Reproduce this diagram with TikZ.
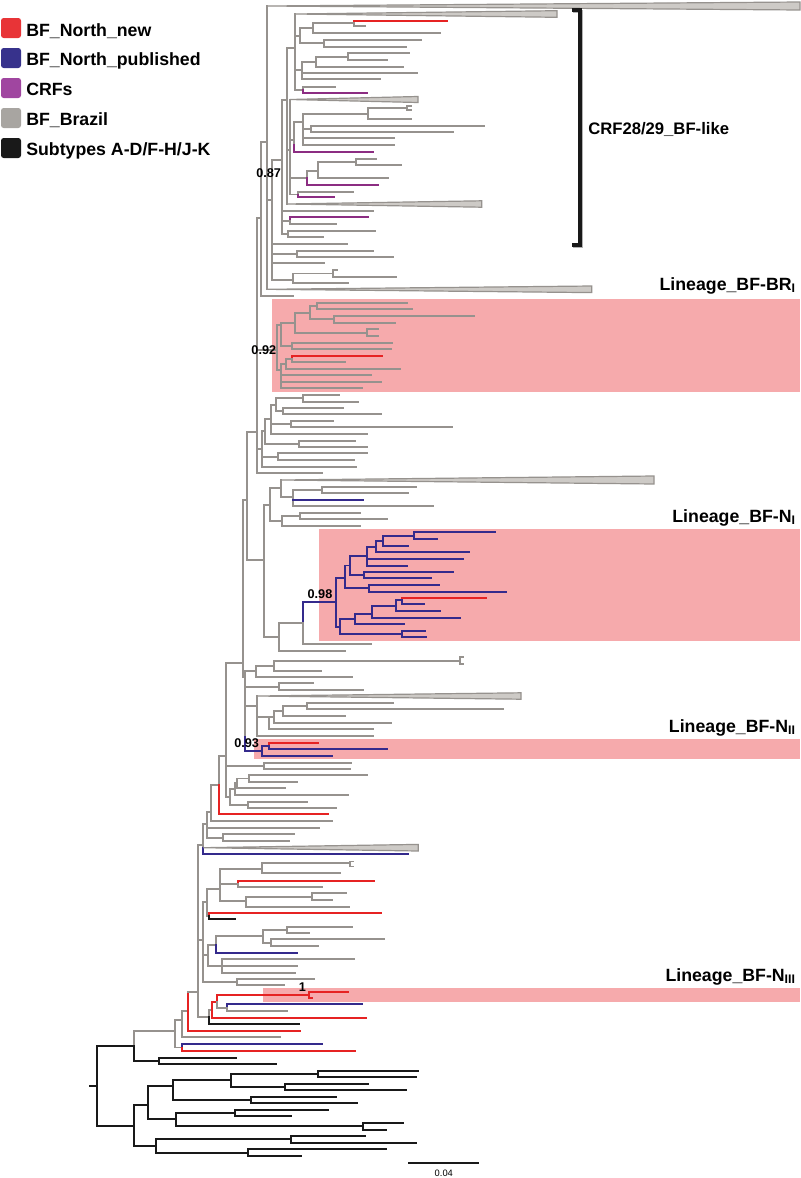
\documentclass[tikz,border=0pt]{standalone}
\usepackage{fontspec}
\setmainfont{Liberation Sans}
\definecolor{cg}{RGB}{150,146,142}
\definecolor{cr}{RGB}{230,35,35}
\definecolor{cb}{RGB}{52,42,140}
\definecolor{cp}{RGB}{140,45,130}
\definecolor{ck}{RGB}{25,25,25}
\definecolor{cw}{RGB}{205,202,198}
\definecolor{cpink}{RGB}{246,170,172}
\definecolor{lgr}{RGB}{232,52,55}
\definecolor{lgb}{RGB}{55,50,140}
\definecolor{lgp}{RGB}{160,70,160}
\definecolor{lgg}{RGB}{168,165,161}
\definecolor{lgk}{RGB}{25,25,25}
\tikzset{
 br/.style={line width=1.4pt, line cap=rect},
 tg/.style={br, draw=cg},
 tr/.style={br, draw=cr},
 tb/.style={br, draw=cb},
 tp/.style={br, draw=cp},
 tk/.style={br, draw=ck, line width=1.5pt},
 wedge/.style={fill=cw, draw=cg, line width=0.9pt, line join=miter},
 hl/.style={fill=cpink, draw=none},
 lab/.style={font=\bfseries\fontsize{13.3}{15}\selectfont, inner sep=0pt},
 bs/.style={font=\bfseries\fontsize{9.5}{11}\selectfont, inner sep=0pt},
 legsq/.style={rounded corners=2pt, draw=none},
}
\newcommand\HL[4][tg]{\draw[#1] (#3,#2) -- (#4,#2);}
\newcommand\VL[4][tg]{\draw[#1] (#2,#3) -- (#2,#4);}
\newcommand\WG[4]{\filldraw[wedge] (#2,#1) -- (#3,#1-#4) -- (#3,#1+#4) -- cycle;}
\begin{document}
\begin{tikzpicture}[x=0.75pt,y=-0.75pt]
\useasboundingbox (0,0) rectangle (800,1178);
\fill[white] (0,0) rectangle (800,1178);
% ---------- highlight boxes
\fill[hl] (272,299) rectangle (800,392);
\fill[hl] (319,529) rectangle (800,641);
\fill[hl] (254,739) rectangle (800,759);
\fill[hl] (263,988) rectangle (800,1002);
% ---------- legend
\fill[legsq, lgr] (1,18) rectangle (21,38);
\fill[legsq, lgb] (1,48) rectangle (21,68);
\fill[legsq, lgp] (1,78) rectangle (21,98);
\fill[legsq, lgg] (1,108) rectangle (21,128);
\fill[legsq, lgk] (1,138) rectangle (21,158);
\node[lab, anchor=base west] (l1) at (26,36) {BF\_North\_new};
\node[lab, anchor=base west] (l2) at (26,65) {BF\_North\_published};
\node[lab, anchor=base west] (l3) at (26,95) {CRFs};
\node[lab, anchor=base west] (l4) at (26,125) {BF\_Brazil};
\node[lab, anchor=base west] (l5) at (26,155) {Subtypes A-D/F-H/J-K};
% ---------- root and outgroup
\HL[tk]{1086}{90}{96.7}
\VL[tk]{96.7}{1046}{1126}
\HL[tk]{1046}{96.7}{134.3}
\VL[tg]{134.3}{1030.7}{1046}
\VL[tk]{134.3}{1046}{1060.7}
\HL[tg]{1030.7}{134.3}{175}
\HL[tk]{1060.7}{134.3}{159}
\VL[tk]{159}{1057.7}{1064.3}
\HL[tk]{1057.7}{159}{235.7}
\HL[tk]{1064.3}{159}{275.7}
\HL[tk]{1126}{96.7}{134}
\VL[tk]{134}{1105}{1146}
\HL[tk]{1105}{134}{147.7}
\VL[tk]{147.7}{1086}{1119.3}
\HL[tk]{1086}{147.7}{172.7}
\VL[tk]{172.7}{1080}{1100}
\HL[tk]{1080}{172.7}{231}
\VL[tk]{231}{1074}{1087}
\HL[tk]{1074}{231}{318.3}
\VL[tk]{318.3}{1070.7}{1077}
\HL[tk]{1070.7}{318.3}{417.7}
\HL[tk]{1077}{318.3}{415.7}
\HL[tk]{1087}{231}{285}
\VL[tk]{285}{1083.7}{1090.3}
\HL[tk]{1083.7}{285}{367.7}
\HL[tk]{1090.3}{285}{406}
\HL[tk]{1100}{172.7}{251}
\VL[tk]{251}{1097}{1103.3}
\HL[tk]{1097}{251}{335.7}
\HL[tk]{1103.3}{251}{356.7}
\HL[tk]{1119.3}{147.7}{176}
\VL[tk]{176}{1113}{1126}
\HL[tk]{1113}{176}{235}
\VL[tk]{235}{1110}{1116.3}
\HL[tk]{1110}{235}{328.3}
\HL[tk]{1116.3}{235}{290.7}
\HL[tk]{1126}{176}{362.7}
\VL[tk]{362.7}{1123.3}{1129.7}
\HL[tk]{1123.3}{362.7}{403.3}
\HL[tk]{1129.7}{362.7}{385.7}
\HL[tk]{1146}{134}{156}
\VL[tk]{156}{1139.3}{1152.7}
\HL[tk]{1139.3}{156}{290.7}
\VL[tk]{290.7}{1136}{1142.7}
\HL[tk]{1136}{290.7}{365}
\HL[tk]{1142.7}{290.7}{415.7}
\HL[tk]{1152.7}{156}{247.7}
\VL[tk]{247.7}{1149.3}{1156}
\HL[tk]{1149.3}{247.7}{386}
\HL[tk]{1156}{247.7}{300.7}
% ---------- BF ingroup, basal part
\VL{175}{1020}{1047.5}
\HL{1020}{175}{181.7}
\HL{1047.5}{175}{182.3}
\VL[tb]{182.3}{1044.3}{1047.5}
\VL[tr]{182.3}{1047.5}{1050.7}
\HL[tb]{1044.3}{182.3}{321.7}
\HL[tr]{1050.7}{182.3}{355}
\VL{181.7}{1011}{1037.3}
\HL{1037.3}{181.7}{280}
\HL{1011}{181.7}{188.3}
\VL[tr]{188.3}{991.7}{1031}
\HL[tr]{1031}{188.3}{300}
\HL{991.7}{188.3}{198.3}
\VL{198.3}{845}{1017.3}
\HL{1017.3}{198.3}{209.3}
\VL{209.3}{1010}{1017.3}
\VL[tk]{209.3}{1017.3}{1024.3}
\HL[tk]{1024.3}{209.3}{299}
\HL{1010}{209.3}{211.7}
\VL[tr]{211.7}{1001.7}{1018.3}
\HL[tr]{1018.3}{211.7}{366}
\HL[tr]{1001.7}{211.7}{216.7}
\VL[tr]{216.7}{995}{1001.7}
\VL{216.7}{1001.7}{1008}
\HL[tr]{995}{216.7}{309.3}
\VL[tr]{309.3}{991.7}{998.3}
\HL[tr]{991.7}{309.3}{347.7}
\HL[tr]{998.3}{309.3}{311.7}
\HL{1008}{216.7}{226.7}
\VL[tb]{226.7}{1004.3}{1008}
\VL{226.7}{1008}{1011}
\HL[tb]{1004.3}{226.7}{362.3}
\HL{1011}{226.7}{287.3}
% node 202.7
\HL{940}{198.3}{202.7}
\VL{202.7}{902}{982.3}
\HL{902}{202.7}{207.3}
\VL{207.3}{889.3}{916}
\HL{889.3}{207.3}{220}
\VL{220}{869.3}{901}
\HL{869.3}{220}{261.7}
\VL{261.7}{863.3}{873.3}
\HL{863.3}{261.7}{350}
\VL{350}{861.5}{866.5}
\HL{861.5}{350}{353}
\HL{866.5}{350}{353}
\HL{873.3}{261.7}{340}
\HL{883.7}{220}{237.7}
\VL[tr]{237.7}{880.7}{883.7}
\VL{237.7}{883.7}{886.7}
\HL[tr]{880.7}{237.7}{374}
\HL{886.7}{237.7}{322.3}
\HL{901}{220}{245.7}
\VL{245.7}{896.7}{906.7}
\HL{896.7}{245.7}{311.7}
\VL{311.7}{893.3}{900}
\HL{893.3}{311.7}{345.7}
\HL{900}{311.7}{332.3}
\HL{906.7}{245.7}{349}
\HL{916}{207.3}{209}
\VL[tr]{209}{912.7}{916}
\VL[tk]{209}{916}{919.3}
\HL[tr]{912.7}{209}{381}
\HL[tk]{919.3}{209}{235}
\HL{955}{202.7}{208.3}
\VL{208.3}{945}{966}
\HL{945}{208.3}{216}
\VL{216}{936}{945}
\VL[tb]{216}{945}{952.7}
\HL[tb]{952.7}{216}{296.7}
\HL{936}{216}{263.3}
\VL{263.3}{929.7}{942.7}
\HL{929.7}{263.3}{287.3}
\VL{287.3}{926.7}{932.7}
\HL{926.7}{287.3}{352.3}
\HL{932.7}{287.3}{309}
\HL{942.7}{263.3}{271}
\VL{271}{939.3}{946}
\HL{939.3}{271}{384}
\HL{946}{271}{317.7}
\HL{966}{208.3}{221.7}
\VL{221.7}{959.3}{972.7}
\HL{959.3}{221.7}{354.3}
\HL{966}{221.7}{296.7}
\HL{972.7}{221.7}{295}
\HL{982.3}{202.7}{236.7}
\VL{236.7}{979.3}{985.3}
\HL{979.3}{236.7}{314.3}
\HL{985.3}{236.7}{284.3}
% node 203.3
\HL{845}{198.3}{203.3}
\VL{203.3}{824}{847.7}
\VL[tb]{203.3}{847.7}{854}
\WG{847.7}{203.3}{418.3}{3.3}
\HL[tb]{854}{203.3}{408.3}
\HL{824}{203.3}{207.3}
\VL{207.3}{812}{837.7}
\HL{827.7}{207.3}{319.3}
\HL{837.7}{207.3}{222.7}
\VL{222.7}{834.3}{841}
\HL{834.3}{222.7}{294.3}
\HL{841}{222.7}{289.3}
\HL{812}{207.3}{211}
\VL{211}{785}{821}
\HL{821}{211}{332.3}
\HL{785}{211}{219}
\VL{219}{756}{785}
\VL[tr]{219}{785}{814.3}
\HL[tr]{814.3}{219}{327.7}
\HL{756}{219}{226}
% node 226
\VL{226}{663.3}{797}
\HL{663.3}{226}{243.3}
\HL{765.7}{226}{264}
\VL{264}{762.7}{768.7}
\HL{762.7}{264}{351}
\HL{768.7}{264}{350}
\HL{797}{226}{230}
\VL{230}{789.2}{805}
\HL{805}{230}{248.3}
\VL{248.3}{801.7}{808.3}
\HL{801.7}{248.3}{306.7}
\HL{808.3}{248.3}{336}
\HL{789.2}{230}{235}
\VL{235}{783.4}{795}
\HL{795}{235}{348.3}
\HL{783.4}{235}{237.3}
\VL{237.3}{778.5}{788.3}
\HL{788.3}{237.3}{285}
\HL{778.5}{237.3}{249}
\VL{249}{775.3}{781.7}
\HL{775.3}{249}{366.7}
\HL{781.7}{249}{296.7}
% node 243.3 / 245
\VL{243.3}{500}{677}
\HL{500}{243.3}{246.7}
\HL{677}{243.3}{245}
\VL{245}{671}{737.3}
\HL{671}{245}{256}
\VL{256}{665.7}{676.7}
\HL{665.7}{256}{274.3}
\VL{274.3}{660.7}{670.7}
\HL{660.7}{274.3}{460}
\VL{460}{657.3}{664}
\HL{657.3}{460}{463}
\HL{664}{460}{463}
\HL{670.7}{274.3}{321}
\HL{676.7}{256}{351.7}
\HL{686.7}{245}{279.3}
\VL{279.3}{683.3}{690}
\HL{683.3}{279.3}{313.3}
\HL{690}{279.3}{363.3}
\HL{706}{245}{257}
\VL{257}{696}{736}
\WG{696}{257}{521}{3.2}
\HL{716.8}{257}{269.3}
\VL{269.3}{716.8}{729.3}
\HL{729.3}{269.3}{372.7}
\HL{716.8}{269.3}{274}
\VL{274}{711}{722.7}
\HL{722.7}{274}{390.7}
\HL{711}{274}{283.3}
\VL{283.3}{706}{716}
\HL{716}{283.3}{345}
\HL{706}{283.3}{306.7}
\VL{306.7}{702.7}{709.3}
\HL{702.7}{306.7}{393.3}
\HL{709.3}{306.7}{503}
\HL{736}{257}{372.7}
% 0.93 clade
\VL[tb]{245}{737.3}{750.7}
\HL[tb]{750.7}{245}{261.7}
\VL[tb]{261.7}{746}{756}
\HL[tb]{746}{261.7}{269}
\VL[tr]{269}{742.7}{746}
\VL[tb]{269}{746}{749.3}
\HL[tr]{742.7}{269}{317.7}
\HL[tb]{749.3}{269}{386.7}
\HL[tb]{756}{261.7}{331.7}
% node 246.7
\VL{246.7}{431.7}{560}
\HL{431.7}{246.7}{257.3}
\HL{560}{246.7}{264}
\VL{264}{505}{636.7}
\HL{505}{264}{270}
\VL{270}{488.3}{521}
\HL{488.3}{270}{280.7}
\VL{280.7}{480}{496.7}
\WG{480}{280.7}{654}{4}
\HL{496.7}{280.7}{292.7}
\VL{292.7}{490}{506}
\HL{490}{292.7}{321.7}
\VL{321.7}{486.7}{493.3}
\HL{486.7}{321.7}{415.7}
\HL{493.3}{321.7}{408.3}
\HL[tb]{500}{292.7}{362.7}
\HL{506}{292.7}{433.3}
\HL{521}{270}{281.7}
\VL{281.7}{516}{526}
\HL{516}{281.7}{300}
\VL{300}{512.7}{519.3}
\HL{512.7}{300}{360}
\HL{519.3}{300}{386.7}
\HL{526}{281.7}{360}
\HL{636.7}{264}{279.3}
\VL{279.3}{623.3}{650.7}
\HL{650.7}{279.3}{345}
\HL{623.3}{279.3}{303.3}
\VL[tb]{303.3}{601.7}{623.3}
\VL{303.3}{623.3}{644}
\HL{644}{303.3}{370.7}
\HL[tb]{601.7}{303.3}{336}
% 0.98 clade
\VL[tb]{336}{578}{626.7}
\HL[tb]{578}{336}{345}
\VL[tb]{345}{565.5}{588.3}
\HL[tb]{565.5}{345}{350}
\VL[tb]{350}{556}{575.3}
\HL[tb]{556}{350}{366.7}
\VL[tb]{366.7}{546.7}{565.7}
\HL[tb]{546.7}{366.7}{376}
\VL[tb]{376}{540.7}{552.3}
\HL[tb]{540.7}{376}{383.3}
\VL[tb]{383.3}{535.7}{545.7}
\HL[tb]{535.7}{383.3}{414.3}
\VL[tb]{414.3}{532.3}{539}
\HL[tb]{532.3}{414.3}{495}
\HL[tb]{539}{414.3}{437.3}
\HL[tb]{545.7}{383.3}{407.7}
\HL[tb]{552.3}{376}{469.3}
\HL[tb]{559}{366.7}{462.7}
\HL[tb]{565.7}{366.7}{406.7}
\HL[tb]{575.3}{350}{364}
\VL[tb]{364}{572.3}{578.3}
\HL[tb]{572.3}{364}{453.3}
\HL[tb]{578.3}{364}{431}
\HL[tb]{588.3}{345}{369}
\VL[tb]{369}{585}{591.7}
\HL[tb]{585}{369}{439}
\HL[tb]{591.7}{369}{505.7}
\HL[tb]{626.7}{336}{340}
\VL[tb]{340}{619.3}{634}
\HL[tb]{619.3}{340}{355}
\VL[tb]{355}{614}{624.3}
\HL[tb]{624.3}{355}{404}
\HL[tb]{614}{355}{371.7}
\VL[tb]{371.7}{605.7}{617.7}
\HL[tb]{617.7}{371.7}{460}
\HL[tb]{605.7}{371.7}{396}
\VL[tb]{396}{600}{611}
\HL[tb]{611}{396}{440}
\HL[tb]{600}{396}{401.7}
\VL[tr]{401.7}{597.7}{600}
\VL[tb]{401.7}{600}{604.3}
\HL[tr]{597.7}{401.7}{486}
\HL[tb]{604.3}{401.7}{424}
\HL[tb]{634}{340}{401.7}
\VL[tb]{401.7}{631}{637.3}
\HL[tb]{631}{401.7}{425}
\HL[tb]{637.3}{401.7}{426}
% spine 257.3
\VL{257.3}{218}{473.3}
\HL{218}{257.3}{261}
\HL{350}{257.3}{276.7}
\HL{449}{257.3}{261.7}
\HL{473.3}{257.3}{321.7}
\VL{261.7}{431}{466.7}
\HL{431}{261.7}{265}
\VL{265}{419}{443.8}
\HL{443.8}{265}{299.3}
\VL{299.3}{440.7}{447}
\HL{440.7}{299.3}{355}
\HL{447}{299.3}{367.3}
\HL{419}{265}{270.7}
\VL{270.7}{404.8}{434}
\HL{404.8}{270.7}{276}
\VL{276}{398.3}{411.3}
\HL{398.3}{276}{302.7}
\VL{302.7}{395}{401.7}
\HL{395}{302.7}{339.3}
\HL{401.7}{302.7}{357.7}
\HL{411.3}{276}{282.7}
\VL{282.7}{408.3}{414.3}
\HL{408.3}{282.7}{342.7}
\HL{414.3}{282.7}{381}
\HL{424}{270.7}{290.7}
\VL{290.7}{421}{427.3}
\HL{421}{290.7}{333.3}
\HL{427.3}{290.7}{451.7}
\HL{434}{270.7}{367.3}
\HL{456.7}{261.7}{278.3}
\VL{278.3}{453.3}{460}
\HL{453.3}{278.3}{366.7}
\HL{460}{278.3}{354.3}
\HL{466.7}{261.7}{356}
% BR_I clade
\VL{276.7}{325}{370}
\HL{325}{276.7}{281}
\VL{281}{322.7}{346}
\HL{322.7}{281}{295}
\VL{295}{312.7}{332.7}
\HL{312.7}{295}{310}
\VL{310}{306}{319.3}
\HL{306}{310}{316.7}
\VL{316.7}{302.7}{309.3}
\HL{302.7}{316.7}{406.7}
\HL{309.3}{316.7}{411.7}
\HL{319.3}{310}{334.3}
\VL{334.3}{316}{322.7}
\HL{316}{334.3}{474.3}
\HL{322.7}{334.3}{395}
\HL{332.7}{295}{366.7}
\VL{366.7}{329.3}{336}
\HL{329.3}{366.7}{378.3}
\HL{336}{366.7}{377.7}
\HL{346}{281}{291.7}
\VL{291.7}{342.7}{349}
\HL{342.7}{291.7}{392.3}
\HL{349}{291.7}{390.7}
\HL{370}{276.7}{280.7}
\VL{280.7}{363.8}{388.3}
\HL{363.8}{280.7}{286}
\VL{286}{358.8}{368.7}
\HL{358.8}{286}{291.7}
\VL[tr]{291.7}{355.7}{358.8}
\VL{291.7}{358.8}{362}
\HL[tr]{355.7}{291.7}{382.3}
\HL{362}{291.7}{345}
\HL{368.7}{286}{400}
\HL{375.3}{280.7}{370.7}
\HL{381.7}{280.7}{381}
\HL{388.3}{280.7}{361.7}
% P1 / P2
\VL{261}{141.7}{296}
\HL{141.7}{261}{266.7}
\HL{296}{261}{293.3}
\VL{266.7}{6}{289.3}
\WG{6}{266.7}{800}{4}
\WG{289.3}{266.7}{591.7}{3.3}
\HL{200}{266.7}{271.7}
\VL{271.7}{160}{280}
\HL{160}{271.7}{281.7}
\HL{244.3}{271.7}{346.7}
\HL{254}{271.7}{296.7}
\VL{296.7}{250.7}{257.3}
\HL{250.7}{296.7}{372.7}
\HL{257.3}{296.7}{393.3}
\HL{263.3}{271.7}{324}
\HL{280}{271.7}{292.7}
\VL{292.7}{273.5}{283.3}
\HL{273.5}{292.7}{333.3}
\VL{333.3}{270}{277}
\HL{270}{333.3}{337}
\HL{277}{333.3}{395.7}
\HL{283.3}{292.7}{348.3}
% Q2
\VL{281.7}{100}{234}
\HL{100}{281.7}{286.7}
\HL{210.7}{281.7}{373.3}
\HL{220.7}{281.7}{290}
\VL[tp]{290}{217.3}{220.7}
\VL{290}{220.7}{224}
\HL[tp]{217.3}{290}{368.3}
\HL{224}{290}{335.7}
\HL{234}{281.7}{288.3}
\VL{288.3}{230.7}{237.3}
\HL{230.7}{288.3}{375}
\HL{237.3}{288.3}{322.7}
% Q3
\VL{286.7}{48}{204}
\HL{48}{286.7}{295}
\HL{150}{286.7}{290}
\WG{204}{286.7}{481.7}{3.2}
% Q4
\VL{295}{14}{90}
\WG{14}{295}{557}{3.3}
\HL{36}{295}{300}
\VL{300}{28.3}{43.3}
\HL{28.3}{300}{312.7}
\VL{312.7}{23.3}{33.3}
\HL{23.3}{312.7}{354}
\VL[tr]{354}{20.7}{23.3}
\VL{354}{23.3}{26}
\HL[tr]{20.7}{354}{447.3}
\HL{26}{354}{365}
\HL{33.3}{312.7}{440}
\HL{43.3}{300}{324}
\VL{324}{40}{46.7}
\HL{40}{324}{420.7}
\HL{46.7}{324}{405.7}
\HL{70}{295}{301.7}
\VL{301.7}{61.7}{79.3}
\HL{61.7}{301.7}{315.7}
\VL{315.7}{56.7}{66.7}
\HL{56.7}{315.7}{348.3}
\VL{348.3}{53.3}{60}
\HL{53.3}{348.3}{409.3}
\HL{60}{348.3}{386.7}
\HL{66.7}{315.7}{403.3}
\HL{72.7}{301.7}{416.7}
\HL{79.3}{301.7}{380}
\HL{90}{295}{302.7}
\VL{302.7}{87.3}{90}
\VL[tp]{302.7}{90}{92.7}
\HL{87.3}{302.7}{335}
\HL[tp]{92.7}{302.7}{366.7}
% Q5
\VL{290}{99.5}{194.5}
\WG{99.5}{290}{418}{3}
\HL{140}{290}{294.3}
\VL{294.3}{122}{145}
\VL[tp]{294.3}{145}{151.7}
\HL[tp]{151.7}{294.3}{372.7}
\HL{122}{294.3}{303.3}
\VL{303.3}{113.8}{145}
\HL{113.8}{303.3}{368.3}
\VL{368.3}{108}{119.3}
\HL{108}{368.3}{406.7}
\VL{406.7}{106}{110}
\HL{106}{406.7}{410.7}
\HL{110}{406.7}{410.7}
\HL{119.3}{368.3}{411}
\HL{129}{303.3}{310.7}
\VL{310.7}{126}{131.7}
\HL{126}{310.7}{484}
\HL{131.7}{310.7}{452.7}
\HL{138.3}{303.3}{394}
\HL{145}{303.3}{394}
\HL{178}{290}{306.7}
\VL{306.7}{171}{178}
\VL[tp]{306.7}{178}{185}
\HL{171}{306.7}{318.3}
\VL{318.3}{162}{178.3}
\HL{162}{318.3}{356}
\VL{356}{159.3}{164.7}
\HL{159.3}{356}{376}
\HL{164.7}{356}{400.7}
\HL{178.3}{318.3}{388.3}
\HL[tp]{185}{306.7}{378.3}
\HL{194.5}{290}{298.3}
\VL{298.3}{191.7}{194.5}
\VL[tp]{298.3}{194.5}{197.3}
\HL{191.7}{298.3}{353.3}
\HL[tp]{197.3}{298.3}{334}
% ---------- bracket
\draw[line width=2.6pt, black!30] (573.2,11.5) -- (581.5,11.5) -- (581.5,246.5) -- (573.2,246.5);
\draw[line width=2.6pt, ck] (571.7,10) -- (580,10) -- (580,245) -- (571.7,245);
\node[lab, font=\bfseries\fontsize{12.5}{15}\selectfont, anchor=base west] (crf) at (588,134) {CRF28/29\_BF-like};
% ---------- lineage labels
\node[lab, anchor=base east] (lbr) at (796,290) {Lineage\_BF-BR\textsubscript{I}};
\node[lab, anchor=base east] (ln1) at (796,522) {Lineage\_BF-N\textsubscript{I}};
\node[lab, anchor=base east] (ln2) at (796,732) {Lineage\_BF-N\textsubscript{II}};
\node[lab, anchor=base east] (ln3) at (796,981) {Lineage\_BF-N\textsubscript{III}};
% ---------- support values
\node[bs] (s87) at (268.7,173) {0.87};
\node[bs] (s92) at (263.8,350) {0.92};
\node[bs] (s98) at (320,594.5) {0.98};
\node[bs] (s93) at (246.7,743) {0.93};
\node[bs] (s1) at (302.5,987.5) {1};
% ---------- scale bar
\coordinate (sbl) at (408.3,1162.7);
\coordinate (sbr) at (479.3,1162.7);
\draw[ck, line width=1.5pt] (sbl) -- (sbr);
\node[font=\fontsize{7}{8}\selectfont, inner sep=0pt] (sbt) at (443.8,1173) {0.04};
\end{tikzpicture}
\end{document}
